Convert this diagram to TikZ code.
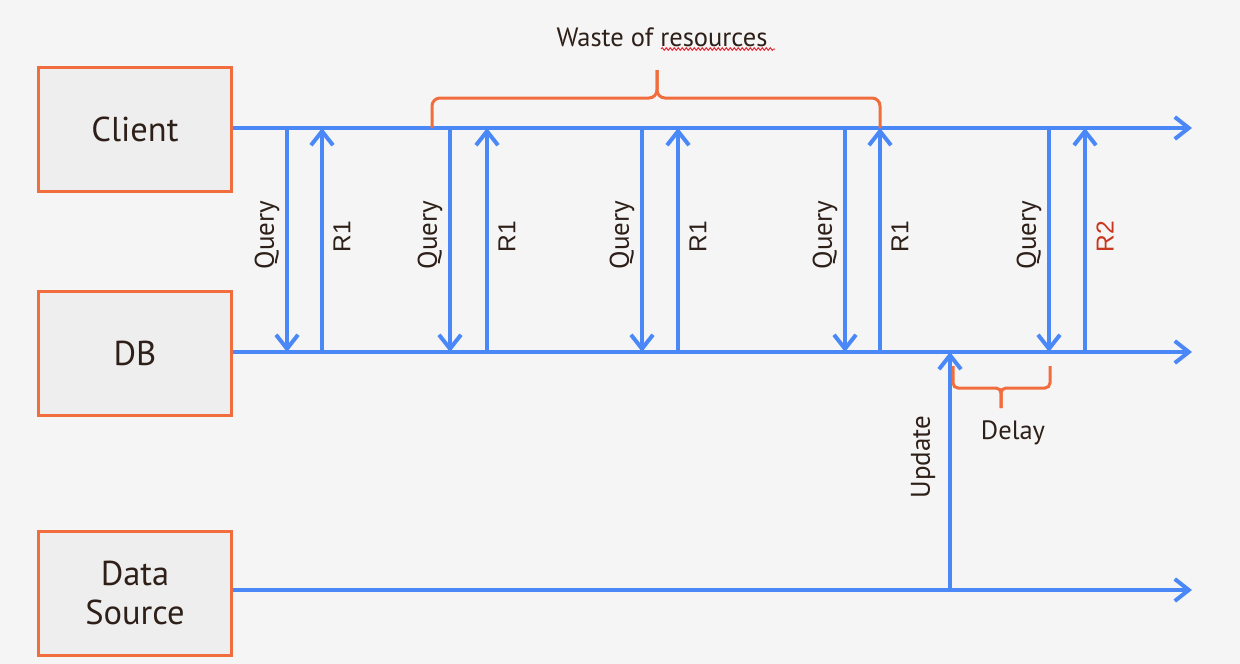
\documentclass[tikz,border=0pt]{standalone}
\usepackage{fontspec}
\setmainfont{PT Sans}
\newfontfamily\arialfont{Liberation Sans}
\usetikzlibrary{arrows.meta,decorations.pathmorphing}
\definecolor{bg}{HTML}{F5F5F5}
\definecolor{boxfill}{HTML}{EEEEEE}
\definecolor{boxline}{HTML}{F26D3D}
\definecolor{flow}{HTML}{4A88F8}
\definecolor{ink}{HTML}{2E2019}
\definecolor{rtwo}{HTML}{C8371F}
\definecolor{squiggle}{HTML}{E0303A}
\begin{document}
\begin{tikzpicture}[x=1pt,y=-1pt,
  actor/.style={draw=boxline,line width=3pt,fill=boxfill,minimum width=193pt,minimum height=124pt,
    inner sep=0pt,align=center,text=ink,font=\fontsize{34.5}{39}\selectfont},
  flowline/.style={draw=flow,line width=4pt,-{Straight Barb[length=14pt,width=22pt]}},
  brace/.style={draw=boxline,line width=3pt,rounded corners=8pt},
  qlabel/.style={rotate=90,text=ink,font=\fontsize{27}{30}\selectfont,inner sep=0pt},
  rlabel/.style={rotate=90,text=ink,font=\arialfont\fontsize{24.5}{28}\selectfont,inner sep=0pt},
  plain/.style={text=ink,font=\fontsize{26.5}{30}\selectfont,inner sep=0pt}]
\fill[bg] (0,0) rectangle (1240,664);
\useasboundingbox (0,0) rectangle (1240,664);

% actors
\node[actor] (client) at (135,129.5) {Client};
\node[actor] (db) at (135,353.5) {DB};
\node[actor] (src) at (135,593) {Data\\Source};

% timelines
\coordinate (cEnd) at (1192,128);
\coordinate (dEnd) at (1192,352);
\coordinate (sEnd) at (1192,590);
\draw[flowline] (client.east |- cEnd) -- (cEnd);
\draw[flowline] (db.east |- dEnd) -- (dEnd);
\draw[flowline] (src.east |- sEnd) -- (sEnd);

% queries and responses
\foreach \i/\q/\r in {1/287/322, 2/450/487, 3/642/678, 4/845/880, 5/1049/1085} {
  \coordinate (qT\i) at (\q,128);
  \coordinate (qB\i) at (\q,352);
  \coordinate (rT\i) at (\r,128);
  \coordinate (rB\i) at (\r,352);
  \draw[flowline] (qT\i) -- (qB\i);
  \draw[flowline] (rB\i) -- (rT\i);
  \node[qlabel] (ql\i) at (\q-20,235) {Query};
}
\node[rlabel] (rl1) at (342,237) {R1};
\node[rlabel] (rl2) at (507,237) {R1};
\node[rlabel] (rl3) at (698,237) {R1};
\node[rlabel] (rl4) at (900,237) {R1};
\node[rlabel,text=rtwo] (rl5) at (1105,237) {R2};

% update
\coordinate (uB) at (950,590);
\coordinate (uT) at (950,352);
\draw[flowline] (uB) -- (uT);
\node[qlabel] (ulabel) at (923,457) {Update};

% waste brace
\coordinate (wL) at (432,128);
\coordinate (wR) at (880,128);
\coordinate (wTip) at (657,70);
\draw[brace] (wL) |- (657,98) -- (wTip);
\draw[brace] (wR) |- (657,98) -- (wTip);
\node[plain] (waste) at (662,37) {Waste of resources};
\draw[squiggle,line width=1pt,decorate,decoration={snake,amplitude=1.3pt,segment length=4pt}] (661,49) -- (775,49);

% delay brace
\coordinate (dL) at (953,366);
\coordinate (dR) at (1050,366);
\coordinate (dTip) at (1001,408);
\draw[brace,rounded corners=5pt] (dL) |- (1001,388) -- (dTip);
\draw[brace,rounded corners=5pt] (dR) |- (1001,388) -- (dTip);
\node[plain] (delay) at (1013,433) {Delay};
\end{tikzpicture}
\end{document}
